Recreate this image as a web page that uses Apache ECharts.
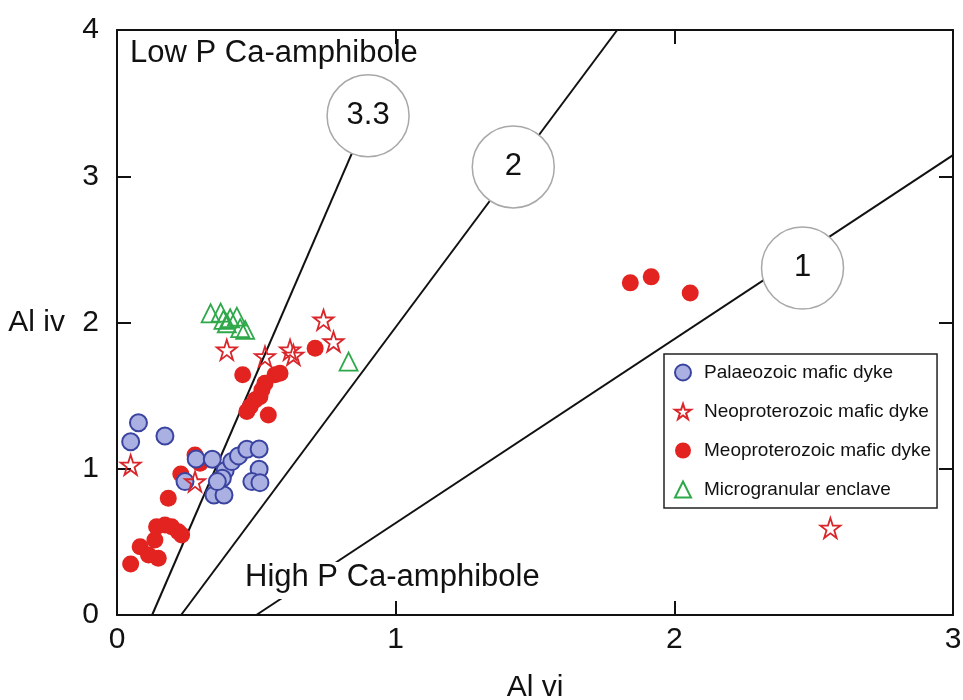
<!DOCTYPE html>
<html>
<head>
<meta charset="utf-8">
<script src="https://cdn.jsdelivr.net/npm/echarts@6/dist/echarts.min.js"></script>
<style>
  html, body { margin: 0; padding: 0; background: #fff; }
  #chart { width: 963px; height: 700px; }
</style>
</head>
<body>
<div id="chart"></div>
<script>
// Al vi (x) / Al iv (y) for each group
const palaeoX = [0.049, 0.077, 0.172, 0.284, 0.244, 0.342, 0.388, 0.378, 0.348, 0.384, 0.360, 0.412, 0.436, 0.466, 0.510, 0.510, 0.484, 0.513]
const palaeoY = [1.185, 1.315, 1.224, 1.067, 0.912, 1.065, 0.987, 0.935, 0.821, 0.821, 0.912, 1.049, 1.088, 1.133, 1.135, 0.996, 0.912, 0.905]

const neoX = [0.049, 0.280, 0.394, 0.531, 0.621, 0.633, 0.741, 0.777, 2.560]
const neoY = [1.026, 0.912, 1.813, 1.767, 1.813, 1.778, 2.018, 1.869, 0.595]

const meoX = [0.049, 0.083, 0.113, 0.148, 0.136, 0.142, 0.172, 0.196, 0.220, 0.232, 0.184, 0.229, 0.280, 0.298,
  0.451, 0.466, 0.478, 0.496, 0.513, 0.520, 0.531, 0.543, 0.567, 0.585, 0.711, 1.842, 1.917, 2.057]
const meoY = [0.349, 0.467, 0.410, 0.388, 0.513, 0.604, 0.616, 0.604, 0.570, 0.547, 0.798, 0.964, 1.094, 1.038,
  1.642, 1.391, 1.425, 1.471, 1.493, 1.539, 1.585, 1.368, 1.642, 1.653, 1.824, 2.271, 2.312, 2.202]

const enclaveX = [0.336, 0.372, 0.382, 0.406, 0.430, 0.394, 0.442, 0.460, 0.831]
const enclaveY = [2.063, 2.068, 2.018, 2.029, 2.040, 1.995, 1.961, 1.949, 1.733]

// ratio lines: start on x axis, end point, and circled label
const ratioLabels = ['3.3', '2', '1']
const ratioStartX = [0.126, 0.23, 0.50]
const ratioEndX = [0.901, 1.795, 3.0]
const ratioEndY = [3.413, 4.0, 3.145]
const ratioLabelX = [0.901, 1.422, 2.460]
const ratioLabelY = [3.413, 3.064, 2.373]

const xTicks = [0, 1, 2, 3]
const yTicks = [0, 1, 2, 3, 4]

const seriesNames = ['Palaeozoic mafic dyke', 'Neoproterozoic mafic dyke', 'Meoproterozoic mafic dyke', 'Microgranular enclave']

const FONT = 'Liberation Sans, Arial, sans-serif'
const STAR = 'path://M50,0 L61.8,35.3 L98.9,35.3 L68.9,57.1 L80.4,92.7 L50,70.8 L19.6,92.7 L31.1,57.1 L1.1,35.3 L38.2,35.3 Z'

const pairs = (xs, ys) => xs.map((x, i) => [x, ys[i]])

const chart = echarts.init(document.getElementById('chart'))

const axisCommon = {
  type: 'value',
  splitLine: { show: false },
  axisLine: { show: true, onZero: false, lineStyle: { color: '#111', width: 2 } },
  axisTick: { show: true, inside: true, length: 14, lineStyle: { color: '#111', width: 2 } }
}

const lineSeries = ratioLabels.map((name, i) => ({
  name: 'line ' + name,
  type: 'line',
  silent: true,
  symbol: 'none',
  z: 1,
  lineStyle: { color: '#111', width: 2 },
  data: [[ratioStartX[i], 0], [ratioEndX[i], ratioEndY[i]]]
}))

const option = {
  animation: false,
  backgroundColor: '#fff',
  grid: { left: 117, right: 10, top: 30, bottom: 85, outerBoundsMode: 'none', containLabel: false },
  xAxis: [
    {
      ...axisCommon,
      position: 'bottom',
      min: xTicks[0],
      max: xTicks[xTicks.length - 1],
      interval: 1,
      name: 'Al vi',
      nameLocation: 'middle',
      nameGap: 58,
      nameTextStyle: { fontFamily: FONT, fontSize: 30, color: '#111' },
      axisLabel: { fontFamily: FONT, fontSize: 30, color: '#111', margin: 10 }
    },
    {
      ...axisCommon,
      position: 'top',
      min: xTicks[0],
      max: xTicks[xTicks.length - 1],
      interval: 1,
      axisLabel: { show: false }
    }
  ],
  yAxis: [
    {
      ...axisCommon,
      position: 'left',
      min: yTicks[0],
      max: yTicks[yTicks.length - 1],
      interval: 1,
      name: 'Al iv',
      nameLocation: 'middle',
      nameRotate: 0,
      nameGap: 52,
      nameTextStyle: { fontFamily: FONT, fontSize: 30, color: '#111' },
      axisLabel: { fontFamily: FONT, fontSize: 30, color: '#111', margin: 18 }
    },
    {
      ...axisCommon,
      position: 'right',
      min: yTicks[0],
      max: yTicks[yTicks.length - 1],
      interval: 1,
      axisLabel: { show: false }
    }
  ],
  legend: {
    data: seriesNames,
    orient: 'vertical',
    left: 664,
    top: 354,
    padding: [9, 6, 9, 10],
    itemGap: 20,
    itemWidth: 16,
    itemHeight: 16,
    backgroundColor: '#fff',
    borderColor: '#222',
    borderWidth: 1.5,
    borderRadius: 0,
    textStyle: { fontFamily: FONT, fontSize: 19, color: '#111', padding: [0, 0, 0, 8] }
  },
  graphic: [
    {
      type: 'text',
      left: 130,
      top: 38,
      z: 100,
      style: { text: 'Low P Ca-amphibole', font: '31px ' + FONT, fill: '#111' }
    },
    {
      type: 'text',
      left: 243,
      top: 562,
      z: 100,
      style: {
        text: 'High P Ca-amphibole', font: '31px ' + FONT, fill: '#111',
        backgroundColor: '#fff', padding: [0, 2, 6, 2]
      }
    }
  ],
  series: [
    ...lineSeries,
    {
      name: 'ratio labels',
      type: 'scatter',
      silent: true,
      z: 3,
      symbol: 'circle',
      symbolSize: 82,
      itemStyle: { color: '#fff', borderColor: '#a8a8a8', borderWidth: 1.5, opacity: 1 },
      label: {
        show: true,
        position: 'inside',
        formatter: (p) => p.name,
        fontFamily: FONT,
        fontSize: 31,
        color: '#111'
      },
      data: ratioLabels.map((n, i) => ({ name: n, value: [ratioLabelX[i], ratioLabelY[i]] }))
    },
    {
      name: seriesNames[2],
      type: 'scatter',
      z: 4,
      symbol: 'circle',
      symbolSize: 17,
      itemStyle: { color: '#e2231f', opacity: 1 },
      data: pairs(meoX, meoY)
    },
    {
      name: seriesNames[0],
      type: 'scatter',
      z: 5,
      symbol: 'circle',
      symbolSize: 17,
      itemStyle: { color: '#aab0e2', borderColor: '#3a44a0', borderWidth: 2, opacity: 1 },
      data: pairs(palaeoX, palaeoY)
    },
    {
      name: seriesNames[1],
      type: 'scatter',
      z: 6,
      symbol: STAR,
      symbolSize: 20,
      itemStyle: { color: 'rgba(255,255,255,0)', borderColor: '#d9262a', borderWidth: 1.8, opacity: 1 },
      data: pairs(neoX, neoY)
    },
    {
      name: seriesNames[3],
      type: 'scatter',
      z: 6,
      symbol: 'triangle',
      symbolSize: 18,
      itemStyle: { color: 'rgba(255,255,255,0)', borderColor: '#2fa84a', borderWidth: 1.8, opacity: 1 },
      data: pairs(enclaveX, enclaveY)
    }
  ]
}

chart.setOption(option)
</script>
</body>
</html>
